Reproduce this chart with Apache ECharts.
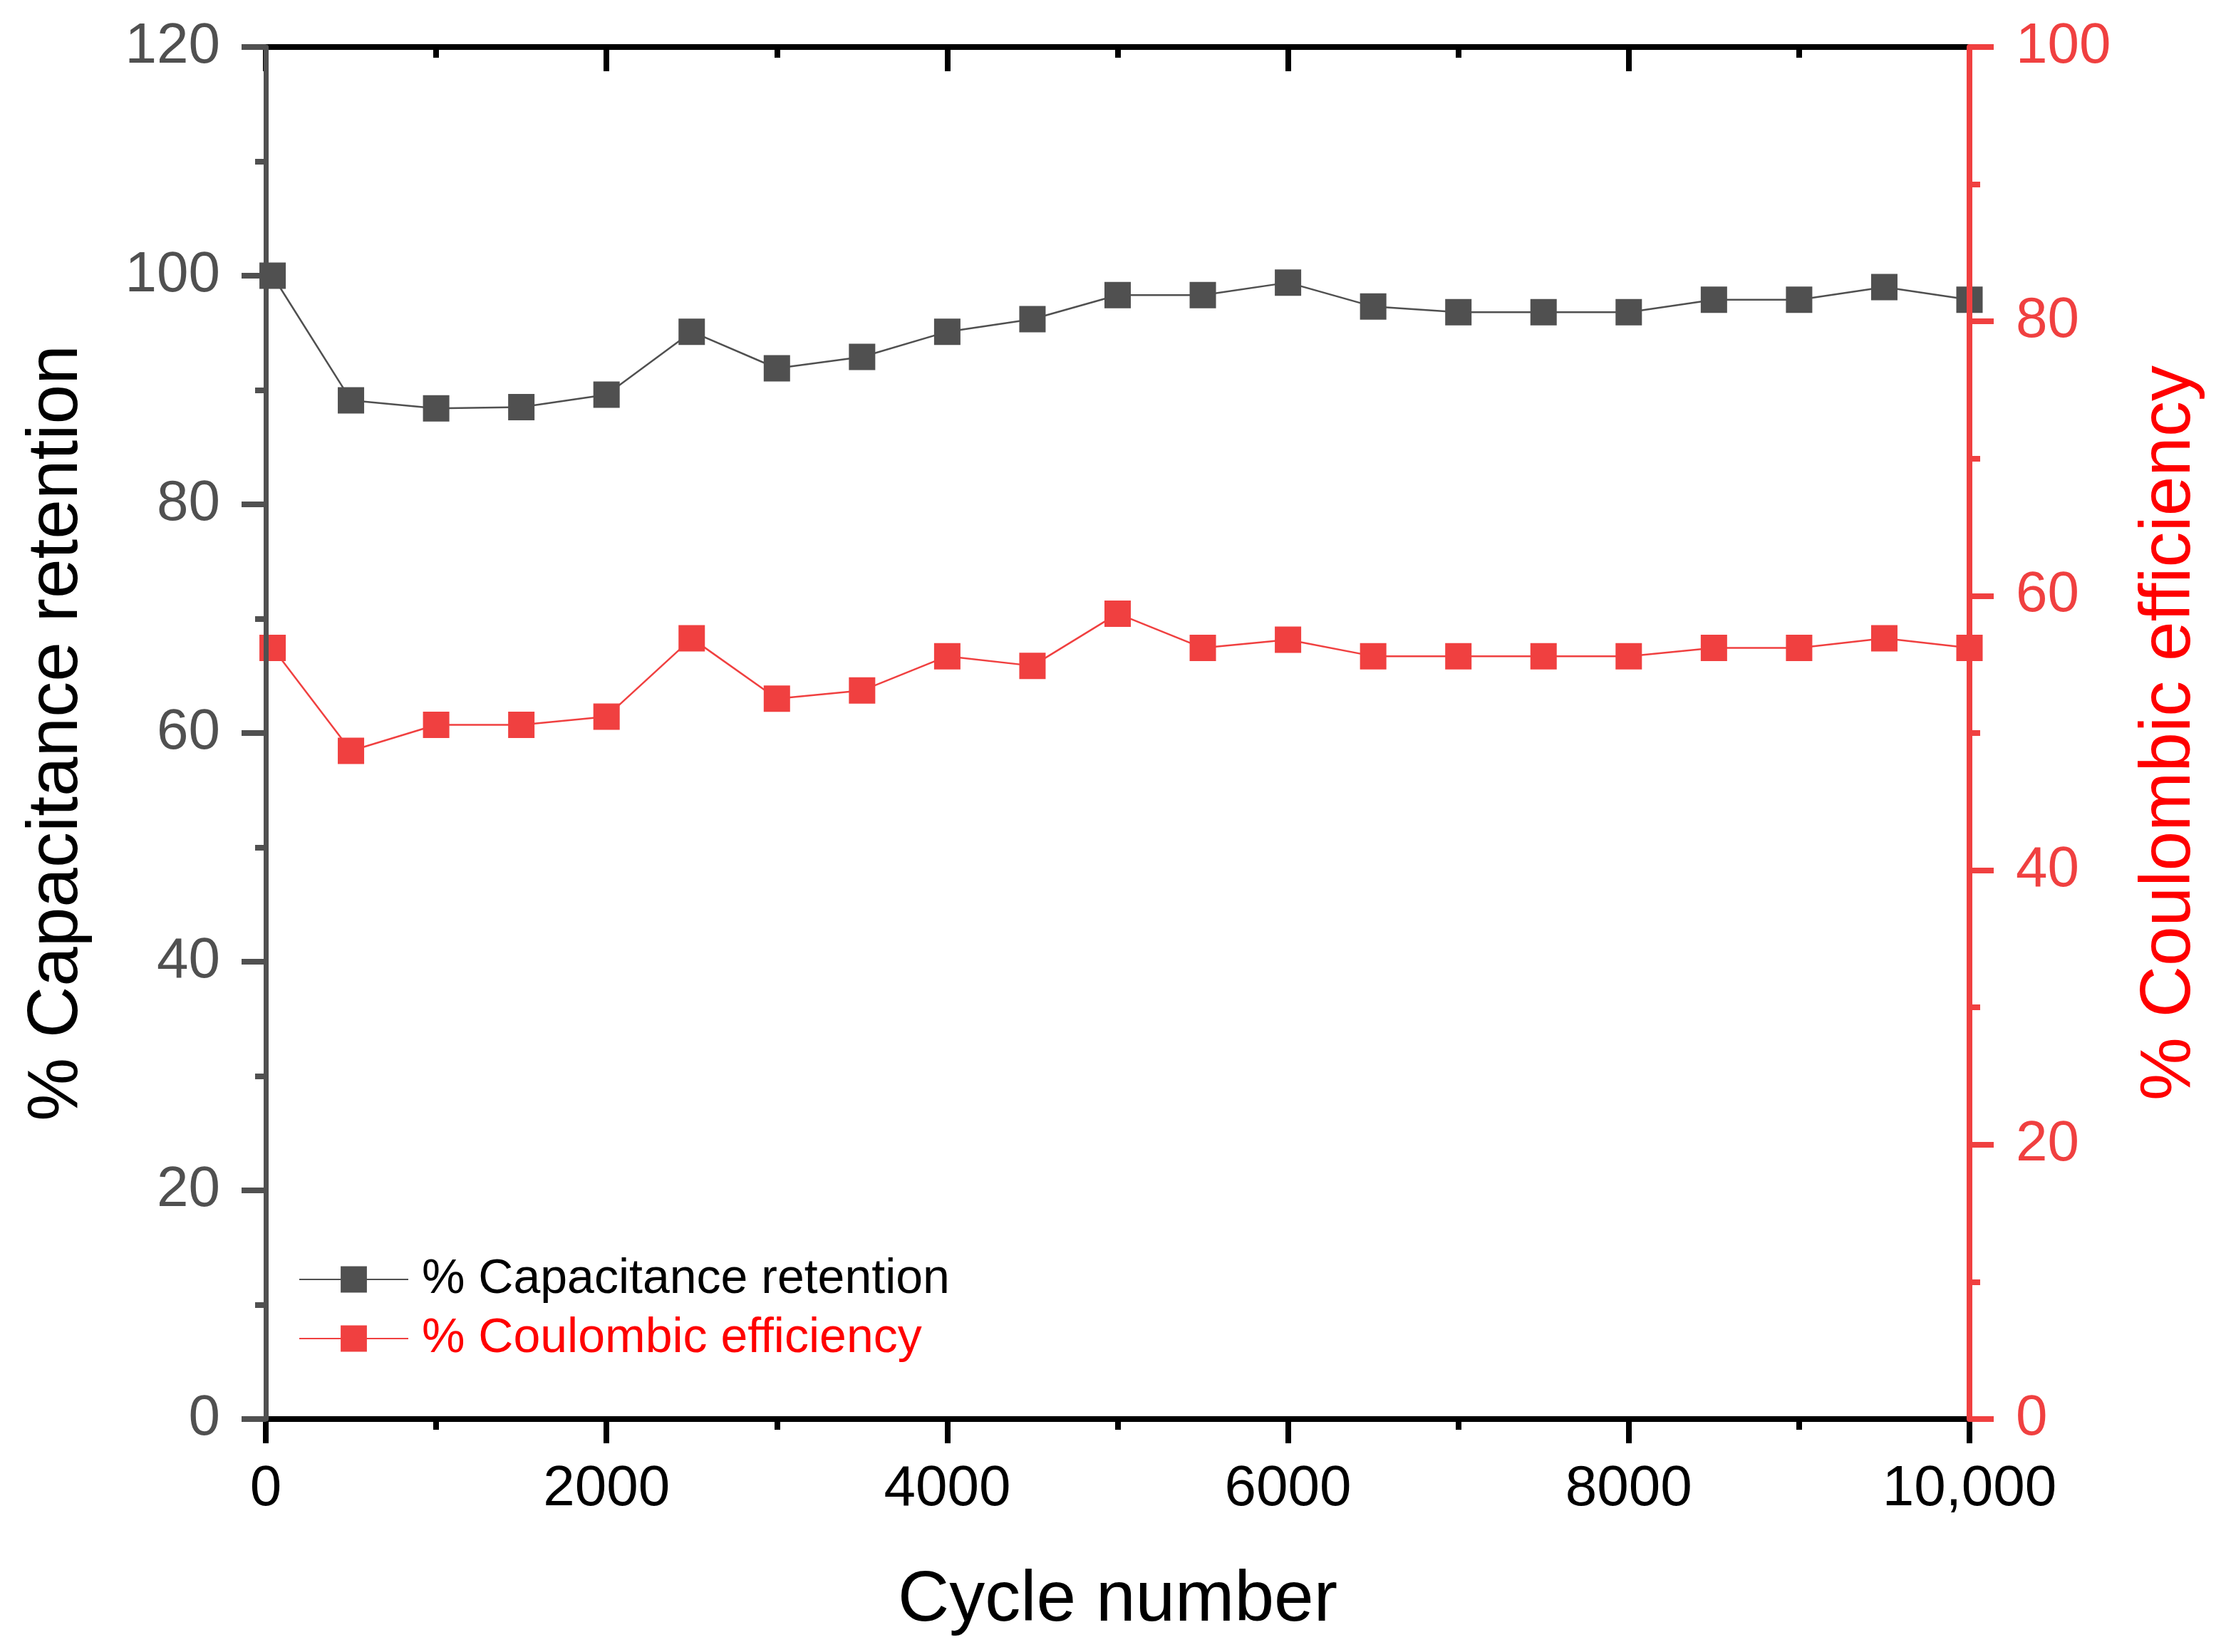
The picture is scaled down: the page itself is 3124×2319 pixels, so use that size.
<!DOCTYPE html>
<html>
<head>
<meta charset="utf-8">
<script src="https://cdn.jsdelivr.net/npm/echarts@6/dist/echarts.min.js"></script>
<style>
html,body{margin:0;padding:0;background:#fff;}
#chart{width:3124px;height:2319px;}
</style>
</head>
<body>
<div id="chart"></div>
<script>
// ---- data ----
const cycles = [40, 500, 1000, 1500, 2000, 2500, 3000, 3500, 4000, 4500, 5000, 5500, 6000, 6500, 7000, 7500, 8000, 8500, 9000, 9500, 10000];
const capacitanceRetention = [100.0, 89.1, 88.4, 88.5, 89.6, 95.1, 91.9, 92.9, 95.1, 96.2, 98.3, 98.3, 99.4, 97.3, 96.8, 96.8, 96.8, 97.9, 97.9, 99.0, 97.9];
const coulombicEfficiency = [56.2, 48.7, 50.6, 50.6, 51.2, 56.9, 52.5, 53.1, 55.6, 54.9, 58.7, 56.2, 56.8, 55.6, 55.6, 55.6, 55.6, 56.2, 56.2, 56.9, 56.2];
const xTickValues = [0, 2000, 4000, 6000, 8000, 10000];
const xTickLabels = ['0', '2000', '4000', '6000', '8000', '10,000'];
const seriesNames = ['% Capacitance retention', '% Coulombic efficiency'];

const FONT = 'Liberation Sans, Arimo, Arial, Helvetica, sans-serif';
const GRAY = '#505050';
const RED = '#F04040';
const PURE_RED = '#FF0000';

const chart = echarts.init(document.getElementById('chart'), null, {renderer: 'canvas'});

function pairs(xs, ys) { return xs.map((x, i) => [x, ys[i]]); }

const option = {
  backgroundColor: '#ffffff',
  animation: false,
  grid: {left: 373, right: 360, top: 66, bottom: 327, containLabel: false},
  legend: {
    orient: 'vertical',
    left: 414,
    top: 1757,
    itemWidth: 153,
    itemHeight: 46,
    itemGap: 15,
    textStyle: {fontFamily: FONT, fontSize: 68, padding: [0, 0, 0, 14]},
    data: [
      {name: seriesNames[0], textStyle: {color: '#000000'}},
      {name: seriesNames[1], textStyle: {color: PURE_RED}}
    ]
  },
  xAxis: [
    {
      type: 'value', position: 'bottom', min: 0, max: 10000, interval: 2000, z: 5,
      name: 'Cycle number', nameLocation: 'middle', nameGap: 205,
      nameTextStyle: {fontFamily: FONT, fontSize: 100, color: '#000'},
      axisLine: {show: true, onZero: false, lineStyle: {color: '#000', width: 8}},
      axisTick: {show: true, inside: false, length: 34, lineStyle: {color: '#000', width: 8}},
      minorTick: {show: true, splitNumber: 2, length: 15, lineStyle: {color: '#000', width: 8}},
      splitLine: {show: false},
      axisLabel: {
        margin: 59, fontFamily: FONT, fontSize: 80, color: '#000',
        formatter: v => { const i = xTickValues.indexOf(v); return i >= 0 ? xTickLabels[i] : ''; }
      }
    },
    {
      type: 'value', position: 'top', min: 0, max: 10000, interval: 2000, z: 5,
      axisLine: {show: true, onZero: false, lineStyle: {color: '#000', width: 8}},
      axisTick: {show: true, inside: true, length: 34, lineStyle: {color: '#000', width: 8}},
      minorTick: {show: true, splitNumber: 2, length: 15, lineStyle: {color: '#000', width: 8}},
      splitLine: {show: false},
      axisLabel: {show: false}
    }
  ],
  yAxis: [
    {
      type: 'value', position: 'left', min: 0, max: 120, interval: 20, z: 6,
      name: '% Capacitance retention', nameLocation: 'middle', nameGap: 243, nameRotate: 90,
      nameTextStyle: {fontFamily: FONT, fontSize: 100, color: '#000'},
      axisLine: {show: true, onZero: false, lineStyle: {color: GRAY, width: 7}},
      axisTick: {show: true, inside: false, length: 34, lineStyle: {color: GRAY, width: 8}},
      minorTick: {show: true, splitNumber: 2, length: 15, lineStyle: {color: GRAY, width: 8}},
      splitLine: {show: false},
      axisLabel: {margin: 64, fontFamily: FONT, fontSize: 80, color: GRAY}
    },
    {
      type: 'value', position: 'right', min: 0, max: 100, interval: 20, z: 6,
      name: '% Coulombic efficiency', nameLocation: 'middle', nameGap: 231, nameRotate: 90,
      nameTextStyle: {fontFamily: FONT, fontSize: 100, color: PURE_RED},
      axisLine: {show: true, onZero: false, lineStyle: {color: RED, width: 8}},
      axisTick: {show: true, inside: false, length: 34, lineStyle: {color: RED, width: 8}},
      minorTick: {show: true, splitNumber: 2, length: 15, lineStyle: {color: RED, width: 8}},
      splitLine: {show: false},
      axisLabel: {margin: 65, fontFamily: FONT, fontSize: 80, color: RED}
    }
  ],
  series: [
    {
      name: seriesNames[0], type: 'line', xAxisIndex: 0, yAxisIndex: 0, z: 2,
      data: pairs(cycles, capacitanceRetention),
      symbol: 'rect', symbolSize: 37, showAllSymbol: true,
      itemStyle: {color: GRAY},
      lineStyle: {color: GRAY, width: 2.5}
    },
    {
      name: seriesNames[1], type: 'line', xAxisIndex: 0, yAxisIndex: 1, z: 2,
      data: pairs(cycles, coulombicEfficiency),
      symbol: 'rect', symbolSize: 37, showAllSymbol: true,
      itemStyle: {color: RED},
      lineStyle: {color: RED, width: 2.5}
    }
  ]
};
chart.setOption(option);
</script>
</body>
</html>
